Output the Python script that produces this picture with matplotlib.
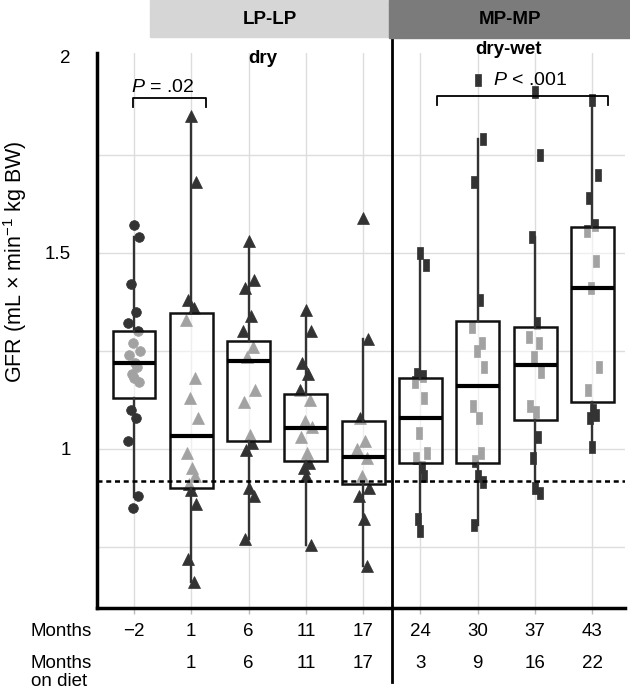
import matplotlib
matplotlib.use("Agg")
import matplotlib.pyplot as plt
import matplotlib.transforms as mtransforms
from matplotlib.patches import Rectangle

plt.rcParams['font.family'] = ['Liberation Sans', 'DejaVu Sans']
plt.rcParams['mathtext.fontset'] = 'custom'
plt.rcParams['mathtext.rm'] = 'Liberation Sans'
plt.rcParams['mathtext.it'] = 'Liberation Sans:italic'

# time points
months = ['\u22122', '1', '6', '11', '17', '24', '30', '37', '43']
months_on_diet = ['', '1', '6', '11', '17', '3', '9', '16', '22']

# box statistics
q1 = [1.13, 0.90, 1.02, 0.97, 0.91, 0.964, 0.964, 1.074, 1.12]
med = [1.22, 1.033, 1.225, 1.054, 0.98, 1.08, 1.16, 1.215, 1.41]
q3 = [1.30, 1.347, 1.275, 1.14, 1.07, 1.18, 1.327, 1.31, 1.565]
whislo = [0.877, 0.66, 0.77, 0.755, 0.70, 0.78, 0.806, 0.888, 1.005]
whishi = [1.54, 1.85, 1.53, 1.355, 1.28, 1.50, 1.79, 1.54, 1.89]

# individual GFR values per time point
g_m2 = [1.57, 1.54, 1.42, 1.35, 1.32, 1.30, 1.27, 1.25, 1.24, 1.22, 1.21,
        1.19, 1.18, 1.17, 1.10, 1.08, 1.02, 0.88, 0.85]
g_1 = [1.85, 1.68, 1.38, 1.36, 1.33, 1.18, 1.13, 1.08, 0.99, 0.95, 0.93,
       0.91, 0.895, 0.86, 0.72, 0.66]
g_6 = [1.53, 1.43, 1.41, 1.34, 1.30, 1.26, 1.235, 1.15, 1.12, 1.035, 1.015,
       0.997, 0.90, 0.88, 0.77]
g_11 = [1.355, 1.30, 1.22, 1.19, 1.15, 1.125, 1.07, 1.055, 1.03, 0.99, 0.965,
        0.95, 0.93, 0.755]
g_17 = [1.59, 1.28, 1.08, 1.02, 1.0, 0.977, 0.93, 0.90, 0.88, 0.82, 0.70]
g_24 = [1.50, 1.47, 1.19, 1.185, 1.17, 1.13, 1.04, 0.99, 0.977, 0.955, 0.93,
        0.82, 0.79]
g_30 = [1.94, 1.79, 1.68, 1.38, 1.31, 1.27, 1.25, 1.21, 1.11, 1.08, 0.99,
        0.97, 0.93, 0.915, 0.806]
g_37 = [1.91, 1.75, 1.54, 1.32, 1.285, 1.27, 1.235, 1.197, 1.11, 1.095, 1.03,
        0.977, 0.90, 0.888]
g_43 = [1.89, 1.70, 1.64, 1.57, 1.555, 1.48, 1.41, 1.21, 1.15, 1.10, 1.087,
        1.08, 1.005]
groups = [g_m2, g_1, g_6, g_11, g_17, g_24, g_30, g_37, g_43]

ref_line = 0.918

W, H = 630, 689
fs = 13.5
fig = plt.figure(figsize=(W / 100, H / 100), dpi=100)
ax = fig.add_axes([97 / W, 1 - 608 / H, (625 - 97) / W, (608 - 53) / H])

# tall rectangle marker for the MP-MP points
rect_marker = [(-0.6, -1), (0.6, -1), (0.6, 1), (-0.6, 1), (-0.6, -1)]
jit = [0.0, 0.09, -0.06, 0.04, -0.1, 0.07, -0.02, 0.11, -0.08, 0.02, 0.06, -0.04]

for i, g in enumerate(groups):
    if i == 0:
        mk, ms = 'o', 7
    elif i < 5:
        mk, ms = '^', 8
    else:
        mk, ms = rect_marker, 8
    xs = [i + jit[k % len(jit)] for k in range(len(g))]
    ax.plot(xs, g, linestyle='none', marker=mk, markersize=ms,
            color='#333333', markeredgecolor='#333333', markeredgewidth=0.5, zorder=2)

stats = []
for i in range(len(months)):
    stats.append({'q1': q1[i], 'med': med[i], 'q3': q3[i],
                  'whislo': whislo[i], 'whishi': whishi[i], 'fliers': []})

ax.bxp(stats, positions=range(len(months)), widths=0.75, patch_artist=True,
       showcaps=False,
       boxprops=dict(facecolor=(1, 1, 1, 0.55), edgecolor='#111111', linewidth=1.8),
       medianprops=dict(color='black', linewidth=3),
       whiskerprops=dict(color='#333333', linewidth=1.7),
       zorder=3)

# grid
for v in [0.75, 1.0, 1.25, 1.5, 1.75]:
    ax.axhline(v, color='#dddddd', lw=1, zorder=0)
for i in range(len(months)):
    ax.axvline(i, color='#dddddd', lw=1, zorder=0)

ax.axhline(ref_line, color='black', lw=1.8, linestyle=(0, (2, 1.5)), zorder=4)

ax.set_xlim(-0.646, 8.57)
ax.set_ylim(0.594, 2.01)
ax.set_yticks([1, 1.5, 2], labels=['1', '1.5', '2'])
ax.set_xticks(range(len(months)), labels=[''] * len(months))
ax.tick_params(axis='y', length=0, pad=19, labelsize=fs)
ax.tick_params(axis='x', length=4, color='#bbbbbb', width=1)
for s in ['top', 'right']:
    ax.spines[s].set_visible(False)
for s in ['left', 'bottom']:
    ax.spines[s].set_linewidth(2.5)

fig.text(15 / W, 1 - 262 / H, 'GFR (mL \u00d7 min$^{-1}$ kg BW)', rotation=90,
         ha='center', va='center', fontsize=15.5)

# month rows below the axis
bt = mtransforms.blended_transform_factory(ax.transData, fig.transFigure)
fig.text(31 / W, 1 - 632 / H, 'Months', ha='left', va='center', fontsize=fs)
fig.text(31 / W, 1 - 663 / H, 'Months', ha='left', va='center', fontsize=fs)
fig.text(31 / W, 1 - 682 / H, 'on diet', ha='left', va='center', fontsize=fs)
for i in range(len(months)):
    ax.text(i, 1 - 632 / H, months[i], transform=bt, ha='center', va='center', fontsize=fs)
    ax.text(i, 1 - 663 / H, months_on_diet[i], transform=bt, ha='center', va='center', fontsize=fs)

# headers
fig.patches.append(Rectangle((150 / W, 1 - 37 / H), (389 - 150) / W, 37 / H,
                             transform=fig.transFigure, color='#d6d6d6', zorder=0))
fig.patches.append(Rectangle((389 / W, 1 - 38 / H), (630 - 389) / W, 38 / H,
                             transform=fig.transFigure, color='#7b7b7b', zorder=0))
fig.text(270 / W, 1 - 19 / H, 'LP-LP', ha='center', va='center', fontsize=fs, weight='bold')
fig.text(510 / W, 1 - 19 / H, 'MP-MP', ha='center', va='center', fontsize=fs, weight='bold')

# divider between diets
ax.plot([4.5, 4.5], [1.0, 1 - 682 / H], transform=bt, color='black', lw=2, clip_on=False, zorder=5)

ax.text(2.25, 1.997, 'dry', ha='center', va='center', fontsize=fs, weight='bold')
ax.text(6.53, 2.018, 'dry-wet', ha='center', va='center', fontsize=fs, weight='bold')

# significance brackets
ax.plot([-0.02, -0.02, 1.26, 1.26], [1.872, 1.895, 1.895, 1.872], color='black', lw=1.3, zorder=5)
ax.text(0.5, 1.922, '$P$ = .02', ha='center', va='center', fontsize=14)
ax.plot([5.29, 5.29, 8.27, 8.27], [1.878, 1.90, 1.90, 1.878], color='black', lw=1.3, zorder=5)
ax.text(6.91, 1.94, '$P$ < .001', ha='center', va='center', fontsize=14)

fig.savefig('out.png', dpi=100)
